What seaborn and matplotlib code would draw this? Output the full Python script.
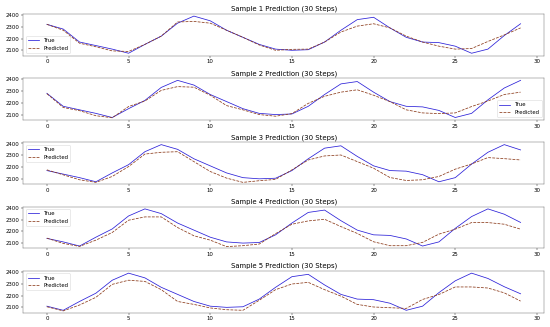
import numpy as np
import pandas as pd
import matplotlib
matplotlib.use("Agg")
import matplotlib.pyplot as plt
import seaborn as sns

# ------------------------------------------------------------
# Data
# ------------------------------------------------------------

steps = list(range(30))

true_1 = [2320, 2280, 2170, 2140, 2110, 2075, 2150, 2220, 2330, 2390,
          2350, 2270, 2210, 2150, 2110, 2100, 2105, 2170, 2270, 2360,
          2380, 2290, 2210, 2170, 2165, 2135, 2075, 2110, 2225, 2325]
pred_1 = [2320, 2270, 2160, 2130, 2095, 2090, 2150, 2220, 2340, 2345,
          2330, 2270, 2210, 2145, 2100, 2108, 2110, 2170, 2255, 2305,
          2325, 2290, 2220, 2170, 2135, 2110, 2115, 2175, 2230, 2290]

true_2 = [2280, 2170, 2140, 2110, 2075, 2150, 2220, 2330, 2390, 2350,
          2270, 2210, 2150, 2110, 2100, 2105, 2170, 2270, 2360, 2380,
          2290, 2210, 2170, 2165, 2135, 2075, 2110, 2225, 2325, 2390]
pred_2 = [2277, 2160, 2133, 2090, 2073, 2168, 2215, 2305, 2337, 2332,
          2264, 2176, 2140, 2100, 2086, 2108, 2195, 2255, 2290, 2310,
          2264, 2210, 2140, 2114, 2108, 2114, 2168, 2215, 2270, 2290]

true_3 = [2170, 2140, 2110, 2075, 2150, 2220, 2330, 2390, 2350, 2270,
          2210, 2150, 2110, 2100, 2105, 2170, 2270, 2360, 2380, 2290,
          2210, 2170, 2165, 2135, 2075, 2110, 2225, 2325, 2390, 2345]
pred_3 = [2176, 2134, 2092, 2070, 2120, 2204, 2310, 2325, 2330, 2246,
          2162, 2106, 2070, 2084, 2095, 2176, 2260, 2294, 2302, 2246,
          2190, 2111, 2086, 2092, 2120, 2182, 2226, 2280, 2271, 2260]

true_4 = [2140, 2110, 2075, 2150, 2220, 2330, 2390, 2350, 2270, 2210,
          2150, 2110, 2100, 2105, 2170, 2270, 2360, 2380, 2290, 2210,
          2170, 2165, 2135, 2075, 2110, 2225, 2325, 2390, 2345, 2275]
pred_4 = [2142, 2097, 2072, 2125, 2190, 2294, 2322, 2322, 2232, 2162,
          2125, 2070, 2078, 2092, 2180, 2260, 2288, 2302, 2240, 2182,
          2111, 2078, 2078, 2106, 2176, 2218, 2274, 2274, 2260, 2218]

true_5 = [2110, 2075, 2150, 2220, 2330, 2390, 2350, 2270, 2210, 2150,
          2110, 2100, 2105, 2170, 2270, 2360, 2380, 2290, 2210, 2170,
          2165, 2135, 2075, 2110, 2225, 2325, 2390, 2345, 2275, 2215]
pred_5 = [2105, 2070, 2120, 2185, 2295, 2330, 2320, 2250, 2150, 2125,
          2095, 2080, 2075, 2160, 2250, 2298, 2312, 2250, 2195, 2125,
          2103, 2097, 2091, 2167, 2209, 2273, 2273, 2264, 2223, 2153]

true_series = [true_1, true_2, true_3, true_4, true_5]
pred_series = [pred_1, pred_2, pred_3, pred_4, pred_5]
legend_locs = ['lower left', 'lower right', 'upper left', 'upper left', 'upper left']

# ------------------------------------------------------------
# Plot
# ------------------------------------------------------------

plt.rcParams['font.size'] = 10.5
plt.rcParams['axes.titlesize'] = 13.5
plt.rcParams['axes.edgecolor'] = '#555555'
fig, axes = plt.subplots(5, 1, figsize=(15, 8.92), dpi=36.67)

for i, ax in enumerate(axes):
    df = pd.DataFrame({'step': steps, 'True': true_series[i], 'Predicted': pred_series[i]})
    sns.lineplot(data=df, x='step', y='True', ax=ax, color='#2a1fd8', linewidth=1.5, label='True')
    sns.lineplot(data=df, x='step', y='Predicted', ax=ax, color='#8b3a1a', linewidth=1.5,
                 linestyle='--', label='Predicted')
    ax.set_title(f'Sample {i + 1} Prediction (30 Steps)')
    ax.set_xlabel('')
    ax.set_ylabel('')
    ax.set_xlim(-1.45, 30.45)
    ax.set_yticks([2100, 2200, 2300, 2400])
    ax.set_ylim(2055, 2410)
    ax.legend(loc=legend_locs[i])

plt.tight_layout()
plt.savefig('out.png', dpi=36.67)
plt.close()
